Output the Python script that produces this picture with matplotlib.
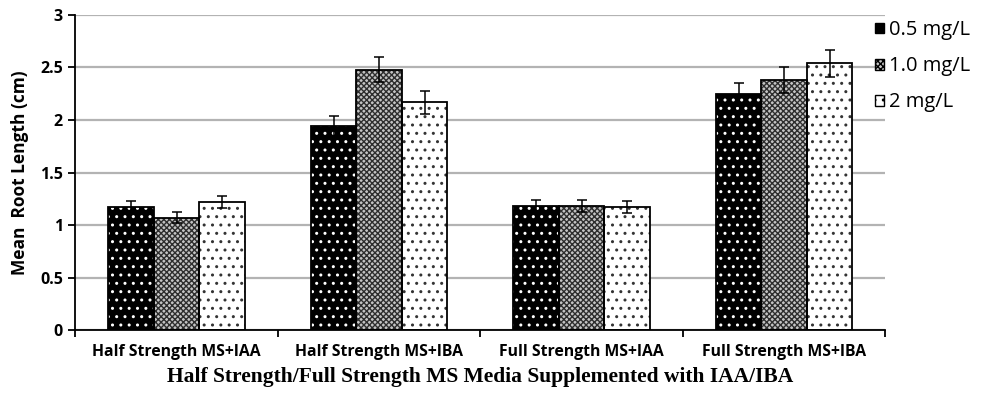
import matplotlib
matplotlib.use("Agg")
import matplotlib.pyplot as plt
import numpy as np
from matplotlib.patches import Patch

# data
groups = ["Half Strength MS+IAA", "Half Strength MS+IBA",
          "Full Strength MS+IAA", "Full Strength MS+IBA"]
series = ["0.5 mg/L", "1.0 mg/L", "2 mg/L"]
conc_05 = [1.17, 1.94, 1.18, 2.245]
conc_10 = [1.07, 2.48, 1.18, 2.38]
conc_20 = [1.22, 2.17, 1.17, 2.54]
err_05 = [0.06, 0.10, 0.06, 0.11]
err_10 = [0.05, 0.12, 0.06, 0.12]
err_20 = [0.06, 0.11, 0.055, 0.13]

plt.rcParams['font.family'] = ['Open Sans', 'DejaVu Sans']
plt.rcParams['hatch.linewidth'] = 1.0

fig = plt.figure(figsize=(9.84, 4.04), dpi=100)
ax = fig.add_axes([0.0767, 0.183, 0.823, 0.78])

# (face, hatch colour, hatch)
styles = [("black", "white", ".."),
          ("#c4c4c4", "#2e2e2e", "xxxxxx"),
          ("white", "#333333", "..")]

x = np.arange(len(groups))
w = 0.225
vals = [conc_05, conc_10, conc_20]
errs = [err_05, err_10, err_20]
for i, (v, e) in enumerate(zip(vals, errs)):
    face, hc, h = styles[i]
    pos = x + (i - 1) * w
    ax.bar(pos, v, w, color=face, edgecolor=hc, hatch=h, linewidth=0, zorder=2)
    ax.bar(pos, v, w, fill=False, edgecolor="black", linewidth=1.3, zorder=3)
    ax.errorbar(pos, v, yerr=e, fmt="none", ecolor="black", elinewidth=1.1,
                capsize=3.4, capthick=1.1, zorder=4)

ax.set_xlim(-0.5, 3.5)
ax.set_ylim(0, 3)
ax.set_yticks(np.arange(0, 3.01, 0.5))
ax.set_yticklabels(["0", "0.5", "1", "1.5", "2", "2.5", "3"],
                   fontweight="bold", fontsize=11.5)
ax.yaxis.grid(True, color="#b3b3b3", linewidth=1.6, zorder=0)
ax.set_axisbelow(True)
for s in ["top", "right"]:
    ax.spines[s].set_visible(False)
ax.spines["left"].set_linewidth(1.3)
ax.spines["bottom"].set_linewidth(1.3)

ax.set_xticks(x)
ax.set_xticklabels(groups, fontweight="bold", fontsize=11.3)
ax.set_xticks(np.arange(-0.5, 3.6, 1), minor=True)
ax.tick_params(axis="x", which="major", length=0, pad=10)
ax.tick_params(axis="x", which="minor", length=5, width=1.3, direction="out")
ax.tick_params(axis="y", length=5, width=1.3, direction="out", pad=4)

ax.set_ylabel("Mean  Root Length (cm)", fontsize=12.5, fontweight="bold", labelpad=8)
ax.set_xlabel("Half Strength/Full Strength MS Media Supplemented with IAA/IBA",
              fontsize=15.5, fontweight="bold", family=["Liberation Serif"], labelpad=5)

handles = [Patch(facecolor=styles[i][0], edgecolor="black", hatch=styles[i][2], linewidth=1)
           for i in range(3)]
fig.legend(handles, series, loc="upper left", bbox_to_anchor=(0.881, 0.97),
           frameon=False, fontsize=14.5, handlelength=0.45, handleheight=0.45,
           handletextpad=0.25, labelspacing=0.8, borderaxespad=0)

fig.savefig("out.png", dpi=100)
